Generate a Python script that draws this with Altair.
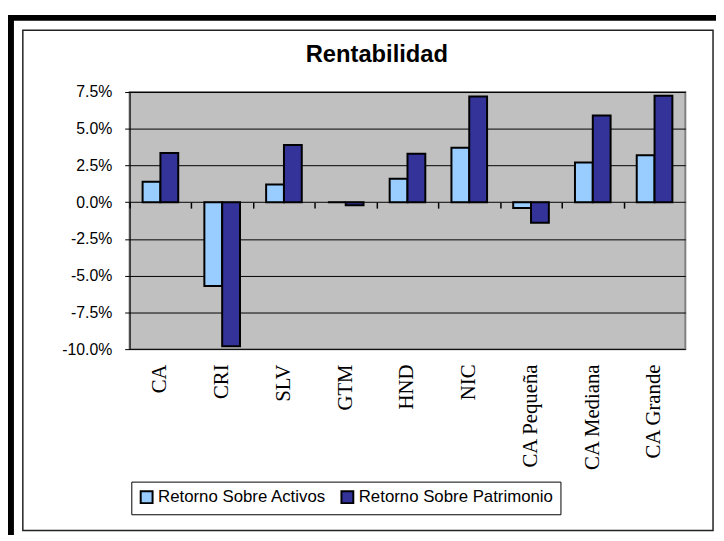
import altair as alt
import pandas as pd

categories = ["CA", "CRI", "SLV", "GTM", "HND", "NIC", "CA Pequeña", "CA Mediana", "CA Grande"]
series_names = ["Retorno Sobre Activos", "Retorno Sobre Patrimonio"]
roa = [1.4, -5.7, 1.2, 0.0, 1.6, 3.7, -0.4, 2.7, 3.2]
roe = [3.35, -9.8, 3.9, -0.2, 3.3, 7.2, -1.4, 5.9, 7.25]
y_ticks = [-0.1, -0.075, -0.05, -0.025, 0.0, 0.025, 0.05, 0.075]
colors = ["#99CCFF", "#333399"]

rows = []
for c, a, e in zip(categories, roa, roe):
    rows.append({"cat": c, "serie": series_names[0], "val": a / 100})
    rows.append({"cat": c, "serie": series_names[1], "val": e / 100})
df = pd.DataFrame(rows)

xscale = alt.Scale(paddingInner=0.423, paddingOuter=0.21)
yscale = alt.Scale(domain=[-0.1, 0.075], nice=False, zero=False)

bars = alt.Chart(df).mark_bar(stroke="black", strokeWidth=2).encode(
    x=alt.X("cat:N", sort=categories, scale=xscale, title=None,
            axis=alt.Axis(orient="bottom", labelAngle=270, labelFont="Liberation Serif",
                          labelFontSize=21, labelColor="black", labelPadding=15, ticks=False,
                          domain=False, labelAlign="right", labelBaseline="middle")),
    xOffset=alt.XOffset("serie:N", sort=series_names, scale=alt.Scale(paddingInner=0, paddingOuter=0)),
    y=alt.Y("val:Q", scale=yscale, title=None,
            axis=alt.Axis(values=y_ticks, format=".1%",
                          labelExpr="replace(format(datum.value, '.1%'), '\u2212', '-')",
                          labelFont="Liberation Sans", labelFontSize=16, labelOverlap=False,
                          labelColor="black", labelPadding=13, tickSize=5, tickColor="black",
                          domainColor="black", domainWidth=1, gridColor="black", gridWidth=1,
                          gridOpacity=1)),
    color=alt.Color("serie:N", sort=series_names,
                    scale=alt.Scale(domain=series_names, range=colors),
                    legend=alt.Legend(title=None, orient="none", legendX=1.7, legendY=394,
                                      direction="horizontal", strokeColor="black", fillColor="white",
                                      padding=7, symbolType="square", symbolSize=144,
                                      symbolStrokeColor="black", symbolStrokeWidth=2,
                                      labelFont="Liberation Sans", labelFontSize=17, labelLimit=400,
                                      labelColor="black", labelOffset=3, columnPadding=10)),
)

zero_ticks = alt.Chart(df).mark_point(opacity=0).encode(
    x=alt.X("cat:N", sort=categories, scale=xscale, title=None,
            axis=alt.Axis(orient="top", labels=False, domain=False, ticks=True, tickSize=6,
                          tickColor="black", tickWidth=1.5, bandPosition=0, tickOffset=-13.1,
                          offset=-117.4, grid=False)),
    y=alt.Y("val:Q", scale=yscale, axis=None),
)

frame_df = pd.DataFrame({"k": [0]})
outer = alt.Chart(frame_df).mark_rect(filled=False, stroke="black", strokeWidth=6).encode(
    x=alt.value(-120), x2=alt.value(640), y=alt.value(-75), y2=alt.value(480))
inner = alt.Chart(frame_df).mark_rect(filled=False, stroke="#222222", strokeWidth=1.5).encode(
    x=alt.value(-108), x2=alt.value(590), y=alt.value(-62.5), y2=alt.value(443.5))

chart = alt.layer(outer, inner, bars, zero_ticks).resolve_axis(
    x="independent", y="independent"
).properties(
    width=562, height=260,
    title=alt.TitleParams("Rentabilidad", font="Liberation Sans", fontSize=24, fontWeight="bold",
                          color="black", anchor="middle", frame="group", baseline="alphabetic",
                          dx=-31, offset=-72),
    autosize=alt.AutoSizeParams(type="none"),
    padding={"left": 123, "top": 82, "right": 31, "bottom": 185},
).configure_view(
    fill="#C0C0C0", stroke="#808080", strokeWidth=2
)

chart.save("out.html", embed_options={"renderer": "svg", "actions": False})
